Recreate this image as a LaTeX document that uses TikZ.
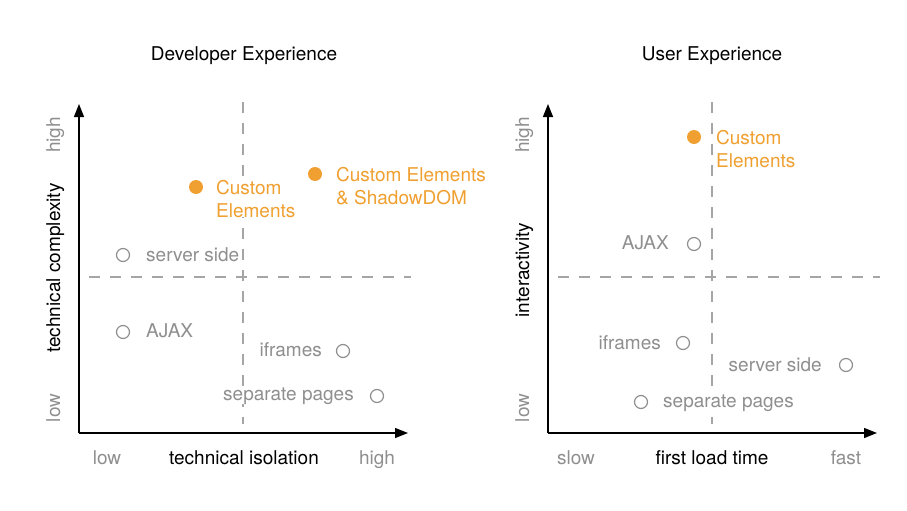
\documentclass[tikz,border=0pt]{standalone}
\usepackage{fontspec}
\setmainfont{TeX Gyre Heros}
\usetikzlibrary{arrows.meta}
\definecolor{ora}{HTML}{F0A030}
\definecolor{gtxt}{HTML}{8F8F8F}
\definecolor{gdash}{HTML}{A5A5A5}
\begin{document}
\begin{tikzpicture}[x=1pt,y=-1pt,
  every node/.style={font=\fontsize{19}{23}\selectfont, inner sep=0pt},
  axis/.style={line width=1.4pt, -{Triangle[length=13pt,width=10pt]}},
  divider/.style={gdash, line width=1.3pt, dash pattern=on 11pt off 10pt},
  opendot/.style={circle, draw=gtxt, line width=1.2pt, minimum size=13pt},
  filldot/.style={circle, fill=ora, minimum size=14pt},
  gl/.style={text=gtxt, fill=white},
  ol/.style={text=ora, fill=white, align=left},
  rot/.style={rotate=90, anchor=base},
  ]
\useasboundingbox (0,0) rectangle (907,511);

% ---------------- left chart ----------------
\node[anchor=base] (t1) at (244,61) {Developer Experience};
\coordinate (o1) at (79,433);
\coordinate (ya1) at (79,104);
\coordinate (xa1) at (408,433);
\draw[axis] (o1) -- (ya1);
\draw[axis] (o1) -- (xa1);
\coordinate (v1a) at (243,102);
\coordinate (v1b) at (243,424);
\coordinate (h1a) at (89,277);
\coordinate (h1b) at (411,277);
\draw[divider] (v1a) -- (v1b);
\draw[divider] (h1a) -- (h1b);

\node[rot, gl] (yh1) at (60,135) {high};
\node[rot] (yl1) at (60,268) {technical complexity};
\node[rot, gl] (ylo1) at (60,408) {low};
\node[anchor=base, gl] (xlo1) at (107,464) {low};
\node[anchor=base] (xl1) at (244,464) {technical isolation};
\node[anchor=base, gl] (xh1) at (377,464) {high};

\node[filldot] (ce1) at (196,187) {};
\node[ol, anchor=base west] (ce1t) at (216,217) {Custom\\Elements};
\node[filldot] (sd1) at (315,174) {};
\node[ol, anchor=base west] (sd1t) at (336,204) {Custom Elements\\\& ShadowDOM};
\node[opendot] (ss1) at (123,255) {};
\node[gl, anchor=base west] (ss1t) at (146,261) {server side};
\node[opendot] (aj1) at (123,332) {};
\node[gl, anchor=base west] (aj1t) at (146,337) {AJAX};
\node[opendot] (if1) at (343,351) {};
\node[gl, anchor=base east] (if1t) at (322,356) {iframes};
\node[opendot] (sp1) at (377,396) {};
\node[gl, anchor=base east] (sp1t) at (354,400) {separate pages};

% ---------------- right chart ----------------
\node[anchor=base] (t2) at (712,61) {User Experience};
\coordinate (o2) at (548,433);
\coordinate (ya2) at (548,104);
\coordinate (xa2) at (877,433);
\draw[axis] (o2) -- (ya2);
\draw[axis] (o2) -- (xa2);
\coordinate (v2a) at (712,102);
\coordinate (v2b) at (712,424);
\coordinate (h2a) at (558,277);
\coordinate (h2b) at (880,277);
\draw[divider] (v2a) -- (v2b);
\draw[divider] (h2a) -- (h2b);

\node[rot, gl] (yh2) at (529,135) {high};
\node[rot] (yl2) at (529,270) {interactivity};
\node[rot, gl] (ylo2) at (529,408) {low};
\node[anchor=base, gl] (xlo2) at (576,464) {slow};
\node[anchor=base] (xl2) at (712,464) {first load time};
\node[anchor=base, gl] (xh2) at (846,464) {fast};

\node[filldot] (ce2) at (694,137) {};
\node[ol, anchor=base west] (ce2t) at (716,167) {Custom\\Elements};
\node[opendot] (aj2) at (694,244) {};
\node[gl, anchor=base east] (aj2t) at (669,249) {AJAX};
\node[opendot] (if2) at (683,343) {};
\node[gl, anchor=base east] (if2t) at (661,349) {iframes};
\node[opendot] (ss2) at (846,365) {};
\node[gl, anchor=base east] (ss2t) at (822,371) {server side};
\node[opendot] (sp2) at (641,402) {};
\node[gl, anchor=base west] (sp2t) at (663,407) {separate pages};
\end{tikzpicture}
\end{document}
